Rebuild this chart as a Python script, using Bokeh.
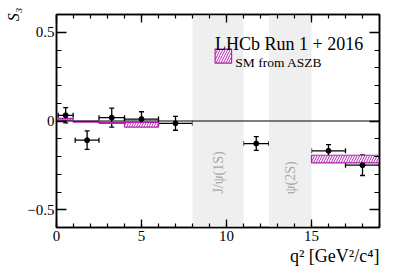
import numpy as np
from math import pi
from bokeh.plotting import figure
from bokeh.models import (ColumnDataSource, Whisker, TeeHead, Span, Label, LinearAxis, Axis,
                          SingleIntervalTicker, Range1d, CustomJSTickFormatter, Title)
from bokeh.embed import file_html
from bokeh.resources import INLINE

# ---- data ----
bin_lo = [0.1, 1.1, 2.5, 4.0, 6.0, 11.0, 15.0, 17.0]
bin_hi = [0.98, 2.5, 4.0, 6.0, 8.0, 12.5, 17.0, 19.0]
s3_val = [0.032, -0.108, 0.019, 0.011, -0.013, -0.127, -0.168, -0.249]
s3_err = [0.043, 0.052, 0.053, 0.041, 0.039, 0.039, 0.035, 0.058]

sm_lo = [0.1, 0.98, 2.5, 4.0, 15.0]
sm_hi = [0.98, 2.5, 4.0, 6.0, 19.0]
sm_bottom = [0.005, -0.007, -0.013, -0.034, -0.236]
sm_top = [0.015, -0.002, -0.008, -0.008, -0.193]

veto_lo = [8.0, 12.5]
veto_hi = [11.0, 15.0]
veto_names = ["J/\u03c8(1S)", "\u03c8(2S)"]
veto_label_y = [-0.29, -0.32]

y_tick_labels = {-0.5: "\u22120.5", 0: "0", 0.5: "0.5"}
x_title = "q\u00b2 [GeV\u00b2/c\u2074]"
y_title = "S\u2083"

MAG = "#b023b0"
FONT = "Liberation Serif"

p = figure(width=399, height=271, output_backend="svg", toolbar_location=None,
           x_range=Range1d(0, 19), y_range=Range1d(-0.6, 0.6),
           min_border_left=56, min_border_right=20, min_border_top=14, min_border_bottom=44)
p.background_fill_color = "white"
p.border_fill_color = "white"
p.grid.visible = False
p.outline_line_color = "black"
p.outline_line_width = 1.5

xa = p.below[0]
ya = p.left[0]

# veto bands
vsrc = ColumnDataSource(dict(left=veto_lo, right=veto_hi,
                             cx=[(a + b) / 2 for a, b in zip(veto_lo, veto_hi)],
                             ly=veto_label_y, name=veto_names))
p.quad(left="left", right="right", bottom=-0.6, top=0.6, source=vsrc,
       fill_color="#efefef", line_color=None)
p.text(x="cx", y="ly", text="name", source=vsrc, angle=pi / 2,
       text_align="center", text_baseline="middle", text_color="#a8a8a8",
       text_font={"value": FONT}, text_font_size="14px")

# zero line
p.add_layout(Span(location=0, dimension="width", line_color="black", line_width=1))

# SM bands
ssrc = ColumnDataSource(dict(left=sm_lo, right=sm_hi, bottom=sm_bottom, top=sm_top))
p.quad(left="left", right="right", bottom="bottom", top="top", source=ssrc,
       fill_color="white", line_color=MAG, line_width=1.2,
       hatch_pattern="/", hatch_color=MAG, hatch_scale=5, hatch_weight=1.0)

# data points
x_c = [(a + b) / 2 for a, b in zip(bin_lo, bin_hi)]
dsrc = ColumnDataSource(dict(x=x_c, y=s3_val, lo=bin_lo, hi=bin_hi,
                             ylo=[v - e for v, e in zip(s3_val, s3_err)],
                             yhi=[v + e for v, e in zip(s3_val, s3_err)]))
p.add_layout(Whisker(source=dsrc, base="y", lower="lo", upper="hi", dimension="width",
                     line_color="black", line_width=1.3,
                     lower_head=TeeHead(size=5, line_width=1.3, line_color="black"),
                     upper_head=TeeHead(size=5, line_width=1.3, line_color="black")))
p.add_layout(Whisker(source=dsrc, base="x", lower="ylo", upper="yhi", dimension="height",
                     line_color="black", line_width=1.3,
                     lower_head=TeeHead(size=5, line_width=1.3, line_color="black"),
                     upper_head=TeeHead(size=5, line_width=1.3, line_color="black")))
p.scatter(x="x", y="y", source=dsrc, size=5, color="black")

# axes
def style(ax, major_in, minor_in):
    ax.axis_line_width = 1.5
    ax.axis_line_color = "black"
    ax.major_tick_in = major_in
    ax.major_tick_out = 0
    ax.minor_tick_in = minor_in
    ax.minor_tick_out = 0
    ax.major_tick_line_width = 1.3
    ax.minor_tick_line_width = 1.2
    ax.major_label_text_font = FONT
    ax.major_label_text_font_size = "15px"
    ax.major_label_text_color = "black"
    ax.major_label_standoff = 3

xa.ticker = SingleIntervalTicker(interval=5, num_minor_ticks=5)
ya.ticker = SingleIntervalTicker(interval=0.5, num_minor_ticks=5)
style(xa, 8, 4)
style(ya, 10, 5)
ya.major_label_overrides = y_tick_labels
ya.major_label_standoff = 2

blank = CustomJSTickFormatter(code="return ''")
top = LinearAxis(ticker=SingleIntervalTicker(interval=5, num_minor_ticks=5), formatter=blank)
style(top, 8, 4)
p.add_layout(top, "above")
right = LinearAxis(ticker=SingleIntervalTicker(interval=0.5, num_minor_ticks=5), formatter=blank)
style(right, 10, 5)
p.add_layout(right, "right")

# titles
p.add_layout(Title(text=x_title, align="right", text_font=FONT, text_font_size="18px",
                   text_font_style="normal", text_color="black", standoff=0), "below")
ya.axis_label = y_title
ya.axis_label_align = "end"
ya.axis_label_standoff = 2
ya.axis_label_text_font = FONT
ya.axis_label_text_font_size = "16px"
ya.axis_label_text_font_style = "italic"
ya.axis_label_text_color = "black"

# legend/header
p.add_layout(Label(x=9.33, y=0.433, text="LHCb Run 1 + 2016", text_align="left",
                   text_baseline="alphabetic", text_font=FONT, text_font_size="18px",
                   text_color="black"))
lsrc = ColumnDataSource(dict(left=[9.33], right=[10.30], bottom=[0.326], top=[0.405]))
p.quad(left="left", right="right", bottom="bottom", top="top", source=lsrc,
       fill_color="white", line_color=MAG, line_width=1.2,
       hatch_pattern="/", hatch_color=MAG, hatch_scale=5, hatch_weight=1.0)
p.add_layout(Label(x=10.52, y=0.3275, text="SM from ASZB", text_align="left",
                   text_baseline="alphabetic", text_font=FONT, text_font_size="13.5px",
                   text_color="black"))

open("out.html", "w").write(file_html(p, INLINE))
